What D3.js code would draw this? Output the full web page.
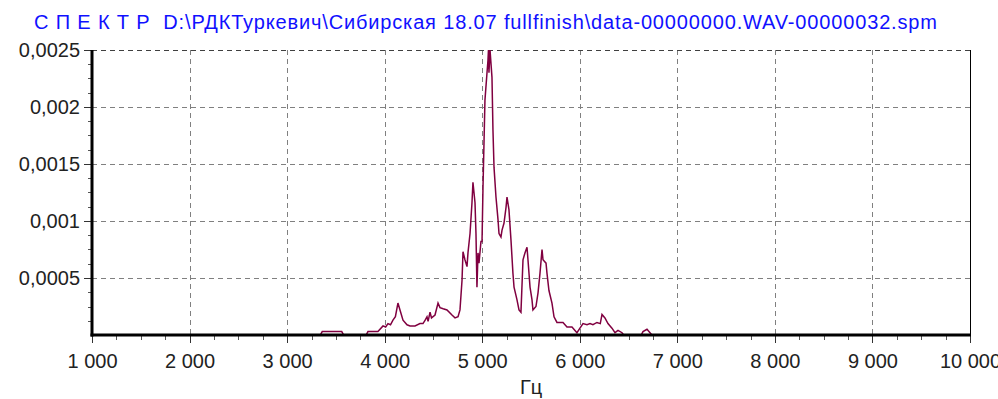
<!DOCTYPE html>
<html>
<head>
<meta charset="utf-8">
<script src="https://cdn.jsdelivr.net/npm/d3@7/dist/d3.min.js"></script>
<style>
  html, body { margin: 0; padding: 0; background: #fff; }
  svg { display: block; font-family: Arial, "Liberation Sans", sans-serif; }
</style>
</head>
<body>
<svg id="chart" width="998" height="399"></svg>
<script>
// Spectrum samples: frequency (Hz) and amplitude
const freqs = [1000, 3340, 3360, 3560, 3580, 3810, 3829, 3931, 3983, 4010, 4034, 4060, 4085, 4110, 4136, 4157, 4188, 4229, 4260, 4311, 4362, 4393, 4415, 4434, 4445, 4465, 4480, 4516, 4547, 4567, 4600, 4639, 4690, 4721, 4752, 4772, 4793, 4803, 4823, 4844, 4854, 4875, 4895, 4905, 4926, 4936, 4946, 4957, 4967, 4987, 4998, 5008, 5028, 5049, 5059, 5064, 5069, 5080, 5100, 5110, 5121, 5141, 5162, 5172, 5192, 5203, 5223, 5244, 5254, 5274, 5295, 5315, 5326, 5356, 5377, 5397, 5418, 5438, 5459, 5469, 5490, 5510, 5520, 5551, 5572, 5592, 5613, 5623, 5654, 5664, 5684, 5715, 5736, 5766, 5828, 5869, 5920, 5951, 5971, 6002, 6033, 6074, 6105, 6135, 6176, 6210, 6228, 6258, 6289, 6330, 6361, 6392, 6433, 6450, 6630, 6648, 6689, 6720, 6740, 10000];
const amps = [0, 0, 0.00003, 0.00003, 0, 0, 0.00003, 0.00003, 0.00008, 0.00007, 0.0001, 0.00009, 0.00013, 0.00016, 0.00028, 0.00022, 0.00013, 0.00009, 0.00008, 0.00008, 0.0001, 0.0001, 0.00013, 0.00016, 0.00012, 0.0002, 0.00015, 0.000175, 0.00028, 0.00024, 0.00023, 0.00022, 0.000175, 0.00015, 0.00016, 0.00022, 0.00048, 0.00073, 0.00066, 0.0006, 0.00072, 0.00089, 0.00116, 0.00134, 0.00116, 0.00089, 0.00042, 0.00072, 0.00063, 0.00082, 0.00082, 0.0013, 0.00206, 0.0023, 0.00241, 0.0025, 0.0023, 0.0025, 0.00226, 0.0018, 0.00147, 0.00121, 0.00101, 0.00089, 0.00086, 0.00092, 0.00098, 0.00112, 0.00121, 0.0011, 0.00083, 0.00054, 0.00042, 0.00031, 0.00022, 0.0002, 0.00066, 0.00072, 0.00077, 0.00066, 0.00042, 0.00031, 0.00022, 0.00025, 0.00037, 0.00054, 0.00075, 0.00066, 0.00063, 0.00054, 0.00039, 0.00028, 0.00016, 0.00011, 0.00011, 0.00007, 0.00007, 0.00004, 0.00002, 0.00006, 0.0001, 0.00009, 0.0001, 0.00009, 0.00011, 0.0001, 0.00018, 0.00015, 0.0001, 0.00006, 0.00002, 0.00004, 0.00002, 0, 0, 0.00003, 0.00005, 0.00002, 0, 0];

const xTicks = [1000, 2000, 3000, 4000, 5000, 6000, 7000, 8000, 9000, 10000];
const xTickLabels = ["1 000", "2 000", "3 000", "4 000", "5 000", "6 000", "7 000", "8 000", "9 000", "10 000"];
const yTicks = [0.0005, 0.001, 0.0015, 0.002, 0.0025];
const yTickLabels = ["0,0005", "0,001", "0,0015", "0,002", "0,0025"];
const titleText = "С П Е К Т Р  D:\\РДКТуркевич\\Сибирская 18.07 fullfinish\\data-00000000.WAV-00000032.spm";
const xAxisTitle = "Гц";

const svg = d3.select("#chart");
const plotL = 92, plotR = 970, plotT = 50, plotB = 335;

const x = d3.scaleLinear().domain([1000, 10000]).range([plotL, plotR]);
const y = d3.scaleLinear().domain([0, 0.0025]).range([plotB, plotT]);

svg.append("rect").attr("width", 998).attr("height", 399).attr("fill", "#fff");

// dashed grid
const grid = svg.append("g").attr("stroke", "#808080").attr("stroke-width", 1)
  .attr("stroke-dasharray", "5,4").attr("shape-rendering", "crispEdges");
grid.selectAll("line.v").data(xTicks.slice(1, -1)).join("line")
  .attr("x1", d => Math.round(x(d)) + 0.5).attr("x2", d => Math.round(x(d)) + 0.5)
  .attr("y1", plotT).attr("y2", plotB);
grid.selectAll("line.h").data(yTicks).join("line")
  .attr("x1", plotL).attr("x2", plotR)
  .attr("y1", d => Math.round(y(d)) + 0.5).attr("y2", d => Math.round(y(d)) + 0.5)
  .attr("stroke", d => d === 0.0025 ? "#404040" : "#808080");

// spectrum trace
svg.append("defs").append("clipPath").attr("id", "plotClip")
  .append("rect").attr("x", plotL).attr("y", plotT - 1).attr("width", plotR - plotL).attr("height", plotB - plotT + 1);

const series = freqs.map((f, i) => [f, amps[i]]);
svg.append("path")
  .datum(series)
  .attr("clip-path", "url(#plotClip)")
  .attr("fill", "none")
  .attr("stroke", "#800040")
  .attr("stroke-width", 1.5)
  .attr("stroke-linejoin", "miter")
  .attr("d", d3.line().x(d => x(d[0])).y(d => y(d[1])));

// x axis with minor ticks every 250 Hz
const xAxis = d3.axisBottom(x).tickValues(xTicks).tickFormat((d, i) => xTickLabels[i]).tickSize(8).tickPadding(11);
const gx = svg.append("g").attr("transform", `translate(0,${plotB})`).call(xAxis);
gx.select(".domain").remove();
gx.selectAll("line").attr("stroke", "#333").attr("shape-rendering", "crispEdges");
gx.selectAll("text").attr("font-size", 20).attr("fill", "#222").attr("font-family", "Arial, 'Liberation Sans', sans-serif");
const xMinor = d3.range(1250, 10000, 250).filter(v => v % 1000 !== 0);
svg.append("g").selectAll("line").data(xMinor).join("line")
  .attr("x1", d => Math.round(x(d)) + 0.5).attr("x2", d => Math.round(x(d)) + 0.5)
  .attr("y1", plotB).attr("y2", plotB + 5)
  .attr("stroke", "#555").attr("shape-rendering", "crispEdges");

// y axis with minor ticks
const yAxis = d3.axisLeft(y).tickValues(yTicks).tickFormat((d, i) => yTickLabels[i]).tickSize(8).tickPadding(4);
const gy = svg.append("g").attr("transform", `translate(${plotL},0)`).call(yAxis);
gy.select(".domain").remove();
gy.selectAll("line").attr("stroke", "#333").attr("shape-rendering", "crispEdges");
gy.selectAll("text").attr("font-size", 20).attr("fill", "#222").attr("font-family", "Arial, 'Liberation Sans', sans-serif");
const yMinor = d3.range(0.000125, 0.0025, 0.000125).filter(v => Math.abs(v / 0.0005 - Math.round(v / 0.0005)) > 0.01);
svg.append("g").selectAll("line").data(yMinor).join("line")
  .attr("x1", plotL - 4).attr("x2", plotL)
  .attr("y1", d => Math.round(y(d)) + 0.5).attr("y2", d => Math.round(y(d)) + 0.5)
  .attr("stroke", "#555").attr("shape-rendering", "crispEdges");

// frame: heavy left and bottom, thin right
svg.append("line").attr("x1", plotL).attr("x2", plotL).attr("y1", plotT).attr("y2", plotB + 1.5)
  .attr("stroke", "#000").attr("stroke-width", 3);
svg.append("line").attr("x1", plotL - 1.5).attr("x2", plotR + 1).attr("y1", plotB).attr("y2", plotB)
  .attr("stroke", "#000").attr("stroke-width", 3);
svg.append("line").attr("x1", plotR + 0.5).attr("x2", plotR + 0.5).attr("y1", plotT).attr("y2", plotB)
  .attr("stroke", "#000").attr("stroke-width", 1);

// title and axis name
svg.append("text").attr("x", 34).attr("y", 29).attr("font-size", 20).attr("fill", "#1010ff")
  .attr("textLength", 903).attr("lengthAdjust", "spacing")
  .attr("xml:space", "preserve").style("white-space", "pre").text(titleText);
svg.append("text").attr("x", 520).attr("y", 394).attr("font-size", 20).attr("fill", "#222").text(xAxisTitle);
</script>
</body>
</html>
